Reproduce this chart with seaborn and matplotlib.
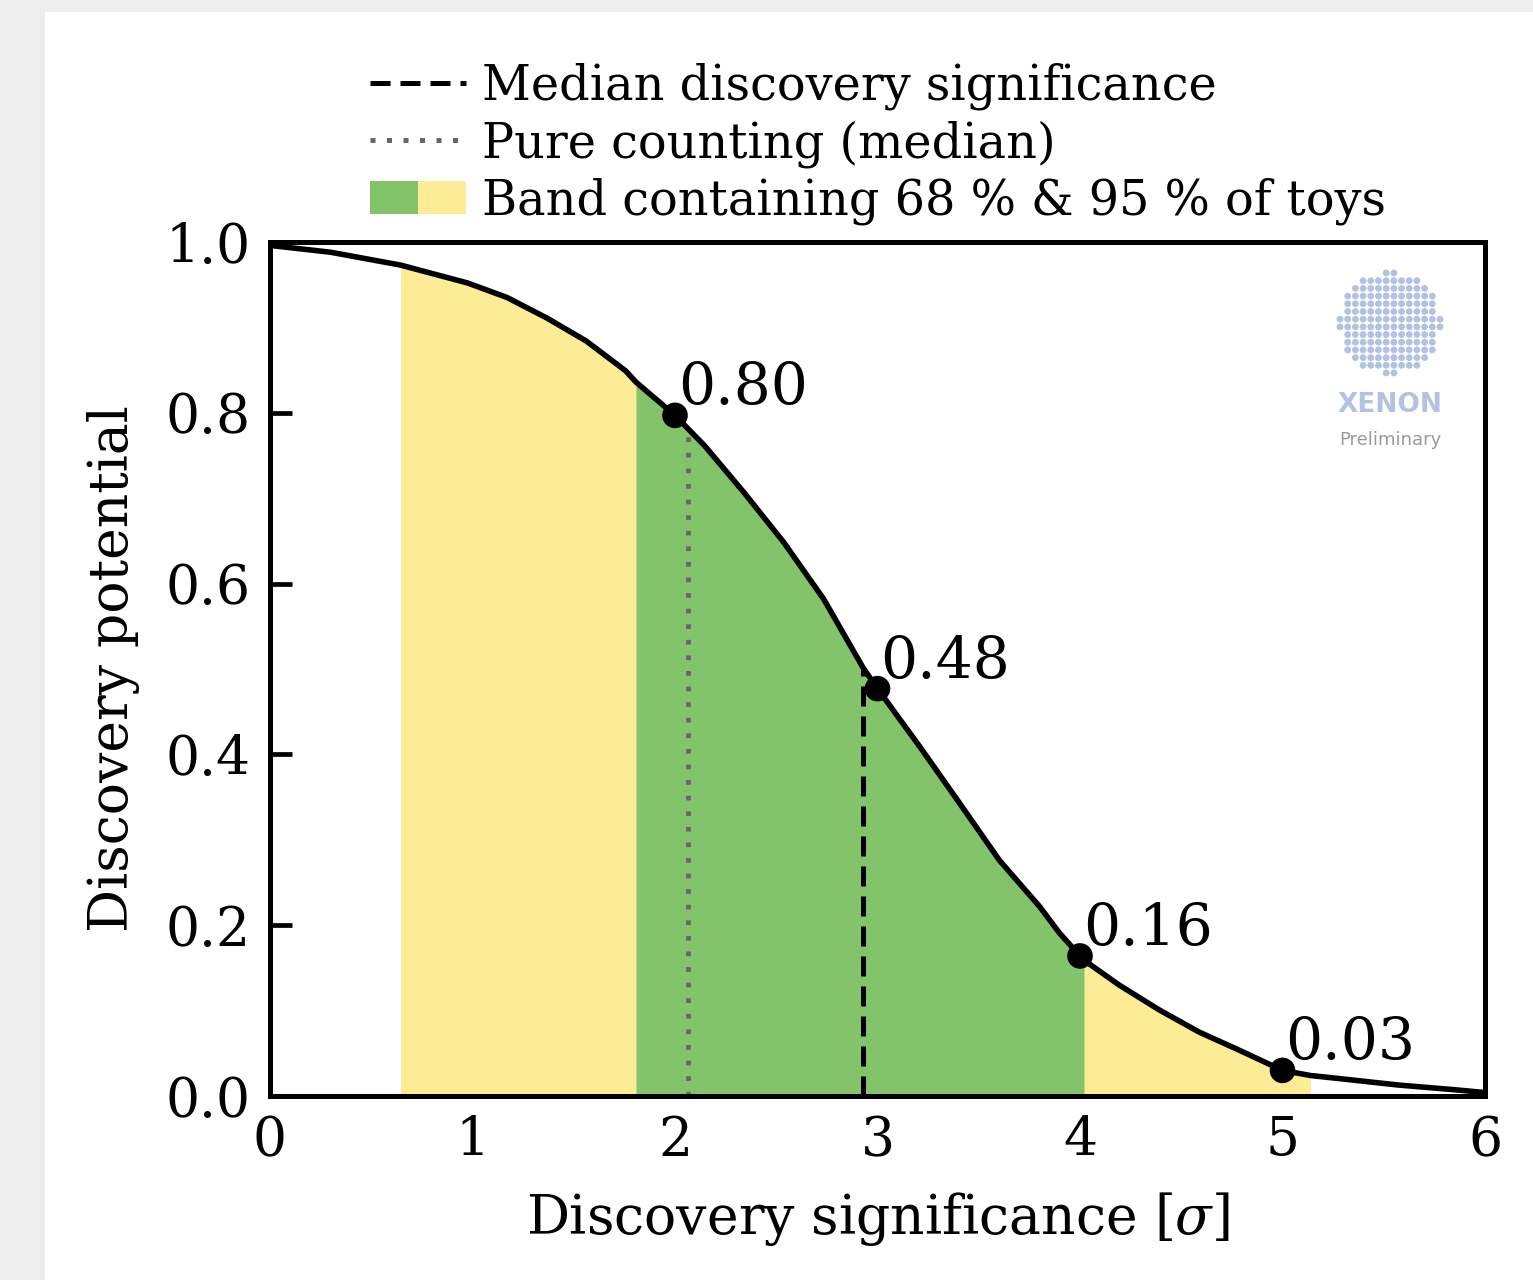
import numpy as np
import pandas as pd
import matplotlib
matplotlib.use("Agg")
import matplotlib.pyplot as plt
from matplotlib.lines import Line2D
from matplotlib.patches import Patch, Rectangle
from matplotlib.legend_handler import HandlerTuple
import seaborn as sns

# ---- data ----
sig_x = [0.0, 0.3, 0.644, 0.976, 1.171, 1.367, 1.562, 1.757, 1.807, 2.0, 2.148, 2.343,
         2.538, 2.734, 2.93, 3.0, 3.209, 3.405, 3.602, 3.80, 3.898, 4.0, 4.02, 4.193,
         4.39, 4.587, 4.783, 5.0, 5.138, 5.276, 5.57, 5.866, 6.0]
potential = [0.996, 0.988, 0.973, 0.952, 0.935, 0.911, 0.884, 0.849, 0.836, 0.797, 0.761,
             0.706, 0.648, 0.582, 0.501, 0.477, 0.409, 0.343, 0.276, 0.222, 0.191, 0.164,
             0.159, 0.130, 0.101, 0.075, 0.054, 0.030, 0.024, 0.0205, 0.0129, 0.007, 0.004]
band95_lo, band68_lo, band68_hi, band95_hi = 0.644, 1.807, 4.02, 5.138
median_sig, median_pot = 2.93, 0.501
counting_sig, counting_pot = 2.065, 0.783
marked_x = [2, 3, 4, 5]
marked_y = [0.797, 0.477, 0.164, 0.030]
marked_labels = ["0.80", "0.48", "0.16", "0.03"]

GREEN = "#83c46b"
YELLOW = "#fcec96"

sns.set_theme(style="ticks")
plt.rcParams["font.family"] = ["DejaVu Serif"]
plt.rcParams["mathtext.fontset"] = "dejavuserif"
plt.rcParams["text.color"] = "black"
plt.rcParams["axes.labelcolor"] = "black"

FS_TICK = 19.3
FS_LAB = 19.3
FS_ANN = 21
FS_LEG = 17.2

fig = plt.figure(figsize=(7.665, 6.4), dpi=200)
fig.patch.set_facecolor("#ededed")
# white slide panel
fig.add_artist(Rectangle((45 / 1533, 0), 1 - 45 / 1533, 1 - 12 / 1280,
                         transform=fig.transFigure, facecolor="white",
                         edgecolor="none", zorder=0))

ax = fig.add_axes([270 / 1533, 1 - 1096 / 1280, (1485 - 270) / 1533, (1096 - 242) / 1280])
ax.set_facecolor("white")

df = pd.DataFrame({"sig": sig_x, "pot": potential})
x = np.array(sig_x)
y = np.array(potential)

# bands
ax.fill_between(x, 0, y, where=(x >= band95_lo) & (x <= band68_lo), color=YELLOW, lw=0, zorder=1)
ax.fill_between(x, 0, y, where=(x >= band68_hi) & (x <= band95_hi), color=YELLOW, lw=0, zorder=1)
ax.fill_between(x, 0, y, where=(x >= band68_lo) & (x <= band68_hi), color=GREEN, lw=0, zorder=1)

# curve
sns.lineplot(data=df, x="sig", y="pot", color="black", lw=2.0, ax=ax, zorder=3)

# median lines
ax.plot([median_sig, median_sig], [0, median_pot], color="black", lw=1.8,
        dashes=(4, 2), zorder=2)
ax.plot([counting_sig, counting_sig], [0, counting_pot], color="#666666", lw=1.7,
        dashes=(1, 2.3), zorder=2)

# marked points
sns.scatterplot(x=marked_x, y=marked_y, color="black", s=85, edgecolor="none",
                ax=ax, zorder=4)
for mx, my, lab in zip(marked_x, marked_y, marked_labels):
    ax.annotate(lab, (mx, my), xytext=(1, 4), textcoords="offset points",
                ha="left", va="baseline", fontsize=FS_ANN, zorder=5)

ax.set_xlim(0, 6)
ax.set_ylim(0, 1)
ax.set_xticks([0, 1, 2, 3, 4, 5, 6])
ax.set_yticks([0.0, 0.2, 0.4, 0.6, 0.8, 1.0])
ax.set_yticklabels(["0.0", "0.2", "0.4", "0.6", "0.8", "1.0"])
ax.tick_params(direction="in", length=8, width=1.7, labelsize=FS_TICK, pad=7, colors="black")
for s in ax.spines.values():
    s.set_linewidth(1.8)
    s.set_color("black")
    s.set_zorder(6)
ax.set_xlabel(r"Discovery significance [$\sigma$]", fontsize=FS_LAB, labelpad=8)
ax.set_ylabel("Discovery potential", fontsize=FS_LAB, labelpad=9)

# legend
handles = [
    Line2D([], [], color="black", lw=1.8, dashes=(4, 2)),
    Line2D([], [], color="#666666", lw=1.8, dashes=(1, 2.3)),
    (Patch(facecolor=GREEN, edgecolor="none"), Patch(facecolor=YELLOW, edgecolor="none")),
]
labels = ["Median discovery significance", "Pure counting (median)",
          "Band containing 68 % & 95 % of toys"]
fig.legend(handles, labels, loc="upper left", bbox_to_anchor=(370 / 1533, 1 - 63 / 1280),
           frameon=False, fontsize=FS_LEG, handlelength=2.0, handletextpad=0.35,
           labelspacing=0.2, borderpad=0, borderaxespad=0,
           handler_map={tuple: HandlerTuple(ndivide=None, pad=0)})

# XENON logo (decoration)
lax = fig.add_axes([1335 / 1533, 1 - 378 / 1280, 110 / 1533, 110 / 1280])
lax.set_xlim(-1.1, 1.1)
lax.set_ylim(-1.1, 1.1)
lax.axis("off")
gx, gy = np.meshgrid(np.linspace(-1, 1, 14), np.linspace(-1, 1, 14))
mask = gx ** 2 + gy ** 2 <= 1.02
lax.scatter(gx[mask], gy[mask], s=6, color="#b3c1e2", edgecolor="none")
fig.text(1390 / 1533, 1 - 405 / 1280, "XENON", ha="center", va="center",
         fontsize=9.5, fontweight="bold", color="#b3c1e2", family="DejaVu Sans")
fig.text(1390 / 1533, 1 - 440 / 1280, "Preliminary", ha="center", va="center",
         fontsize=6.5, color="#9a9a9a", family="DejaVu Sans")

fig.savefig("out.png", dpi=200, facecolor=fig.get_facecolor())
